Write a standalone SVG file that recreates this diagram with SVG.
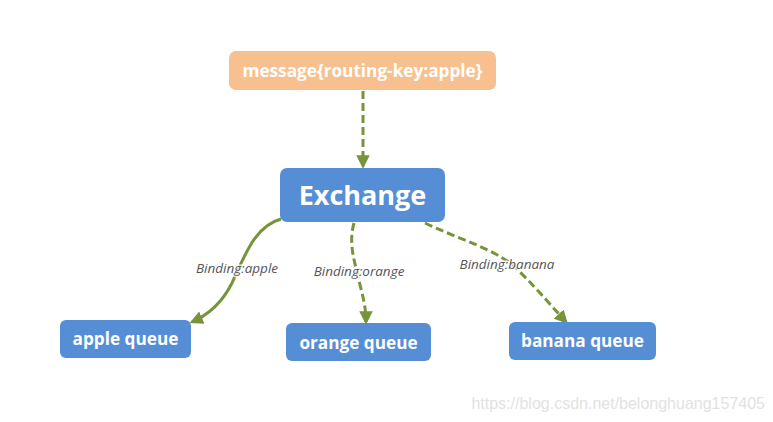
<svg xmlns="http://www.w3.org/2000/svg" width="773" height="422" viewBox="0 0 773 422">
<defs>
<marker id="ah" viewBox="0 0 10 10" refX="8" refY="5" markerWidth="4.5" markerHeight="4.5" orient="auto" markerUnits="strokeWidth">
<path d="M0,0 L10,5 L0,10 Z" fill="#77933C"/>
</marker>
<style>
.node{fill:#558ED5}
.t{font-family:"Open Sans","Noto Sans",sans-serif;font-weight:bold;fill:#fff;text-anchor:middle}
.c{fill:none;stroke:#77933C;stroke-width:3}
.d{stroke-dasharray:8,4}
.lbl{font-family:"Open Sans","Noto Sans",sans-serif;font-style:italic;font-size:13.5px;fill:#555;text-anchor:middle;stroke:#fff;stroke-opacity:0.8;stroke-width:3;paint-order:stroke}
</style>
</defs>
<rect width="773" height="422" fill="#fff"/>
<g id="connectors">
<path class="c d" d="M363,91 L363,166" marker-end="url(#ah)"/>
<path class="c" d="M281,219 C255,226 245,255 232,283 C222,303 208,315 192,322" marker-end="url(#ah)"/>
<path class="c d" d="M354,223 C348,245 355,262 360,285 C364,300 366,310 366,322" marker-end="url(#ah)"/>
<path class="c d" d="M425,223 C460,240 500,250 520,272 C540,292 555,310 566,322" marker-end="url(#ah)"/>
<text class="lbl" x="237" y="273">Binding:apple</text>
<text class="lbl" x="359" y="276">Binding:orange</text>
<text class="lbl" x="507" y="269">Binding:banana</text>
</g>
<g id="message">
<rect x="229" y="51" width="267" height="39" rx="7" fill="#F9C08F"/>
<text class="t" x="362.5" y="77" font-size="17.2">message{routing-key:apple}</text>
</g>
<g id="exchange">
<rect class="node" x="280" y="168" width="165" height="54" rx="7"/>
<text class="t" x="362.5" y="205" font-size="27">Exchange</text>
</g>
<g id="apple-queue">
<rect class="node" x="60" y="320" width="131" height="38" rx="6"/>
<text class="t" x="125.5" y="345" font-size="17.2">apple queue</text>
</g>
<g id="orange-queue">
<rect class="node" x="286" y="323" width="145" height="38" rx="6"/>
<text class="t" x="358.5" y="349" font-size="17.2">orange queue</text>
</g>
<g id="banana-queue">
<rect class="node" x="509" y="322" width="147" height="38" rx="6"/>
<text class="t" x="582.5" y="347" font-size="17.2">banana queue</text>
</g>
<text x="765" y="409" font-family="'Liberation Sans',Arial,sans-serif" font-size="16" fill="#e2e2e2" text-anchor="end">https://blog.csdn.net/belonghuang157405</text>
</svg>
